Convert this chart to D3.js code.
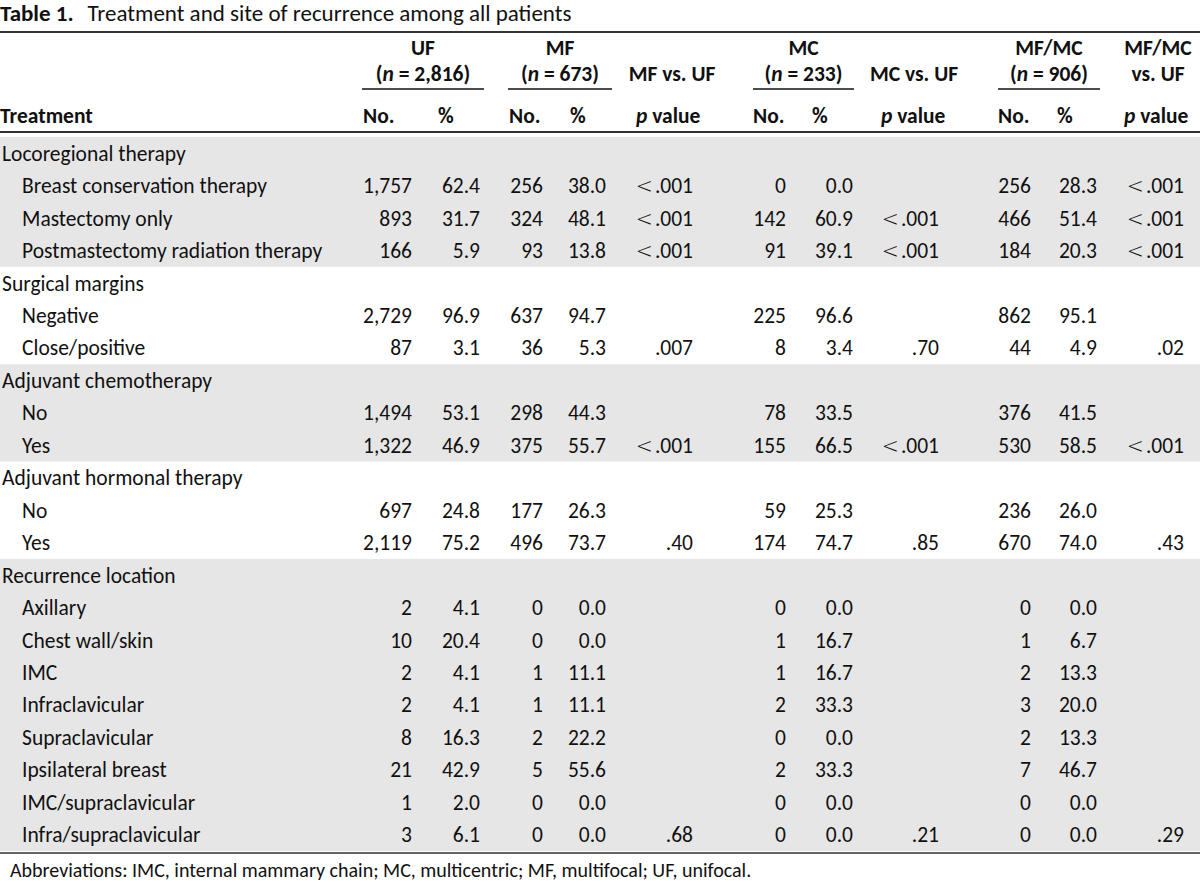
<!DOCTYPE html>
<html>
<head>
<meta charset="utf-8">
<script src="https://cdn.jsdelivr.net/npm/d3@7"></script>
<style>
  html, body { margin: 0; padding: 0; background: #fff; }
  svg { display: block; font-family: Carlito, Lato, "Open Sans", sans-serif; }
</style>
</head>
<body>
<svg id="chart" width="1200" height="882"></svg>
<script>
// ---------------- DATA ----------------
const titleBold = "Table 1.";
const titleText = "Treatment and site of recurrence among all patients";
const footnote = "Abbreviations: IMC, internal mammary chain; MC, multicentric; MF, multifocal; UF, unifocal.";

const rowLabels = [
  "Locoregional therapy", "Breast conservation therapy", "Mastectomy only", "Postmastectomy radiation therapy",
  "Surgical margins", "Negative", "Close/positive",
  "Adjuvant chemotherapy", "No", "Yes",
  "Adjuvant hormonal therapy", "No", "Yes",
  "Recurrence location", "Axillary", "Chest wall/skin", "IMC", "Infraclavicular", "Supraclavicular",
  "Ipsilateral breast", "IMC/supraclavicular", "Infra/supraclavicular"
];
// 1 = group heading, 0 = item
const rowIsGroup = [1,0,0,0, 1,0,0, 1,0,0, 1,0,0, 1,0,0,0,0,0,0,0,0];
// group index (for shading bands)
const rowGroup   = [0,0,0,0, 1,1,1, 2,2,2, 3,3,3, 4,4,4,4,4,4,4,4,4];

const ufNo    = [null,1757,893,166, null,2729,87, null,1494,1322, null,697,2119, null,2,10,2,2,8,21,1,3];
const ufPct   = [null,62.4,31.7,5.9, null,96.9,3.1, null,53.1,46.9, null,24.8,75.2, null,4.1,20.4,4.1,4.1,16.3,42.9,2.0,6.1];
const mfNo    = [null,256,324,93, null,637,36, null,298,375, null,177,496, null,0,0,1,1,2,5,0,0];
const mfPct   = [null,38.0,48.1,13.8, null,94.7,5.3, null,44.3,55.7, null,26.3,73.7, null,0.0,0.0,11.1,11.1,22.2,55.6,0.0,0.0];
const pMfUf   = ["","<.001","<.001","<.001", "","",".007", "","","<.001", "","",".40", "","","","","","","","",".68"];
const mcNo    = [null,0,142,91, null,225,8, null,78,155, null,59,174, null,0,1,1,2,0,2,0,0];
const mcPct   = [null,0.0,60.9,39.1, null,96.6,3.4, null,33.5,66.5, null,25.3,74.7, null,0.0,16.7,16.7,33.3,0.0,33.3,0.0,0.0];
const pMcUf   = ["","","<.001","<.001", "","",".70", "","","<.001", "","",".85", "","","","","","","","",".21"];
const mfmcNo  = [null,256,466,184, null,862,44, null,376,530, null,236,670, null,0,1,2,3,2,7,0,0];
const mfmcPct = [null,28.3,51.4,20.3, null,95.1,4.9, null,41.5,58.5, null,26.0,74.0, null,0.0,6.7,13.3,20.0,13.3,46.7,0.0,0.0];
const pMfmcUf = ["","<.001","<.001","<.001", "","",".02", "","","<.001", "","",".43", "","","","","","","","",".29"];

// column group headers
const groupNames = ["UF", "MF", "MC", "MF/MC"];
const groupN     = ["2,816", "673", "233", "906"];
const compHeaders = ["MF vs. UF", "MC vs. UF"];

// ---------------- LAYOUT ----------------
const W = 1200, H = 882;
const FS = 21.5;
const svg = d3.select("#chart");

const colKeys = ["ufNo","ufPct","mfNo","mfPct","pMf","mcNo","mcPct","pMc","mfmcNo","mfmcPct","pMfmc"];
// right edges of value columns
const xRight = d3.scaleOrdinal().domain(colKeys)
  .range([412, 480, 543, 606, 693, 786, 853, 939, 1031, 1097, 1184]);
const colValues = {
  ufNo: ufNo, ufPct: ufPct, mfNo: mfNo, mfPct: mfPct, pMf: pMfUf,
  mcNo: mcNo, mcPct: mcPct, pMc: pMcUf, mfmcNo: mfmcNo, mfmcPct: mfmcPct, pMfmc: pMfmcUf
};
const fmtNo = d3.format(",");
const fmtPct = d3.format(".1f");
function fmt(key, v) {
  if (v === null || v === undefined || v === "") return "";
  if (key.startsWith("p")) return v;
  if (key.endsWith("No")) return fmtNo(v);
  return fmtPct(v);
}

const y = d3.scaleBand().domain(d3.range(rowLabels.length)).range([137, 851]).padding(0);

// shading bands
const bands = d3.groups(d3.range(rowLabels.length), i => rowGroup[i]);
svg.append("g").selectAll("rect").data(bands.filter(b => b[0] % 2 === 0)).join("rect")
  .attr("x", 0).attr("width", W)
  .attr("y", b => y(b[1][0]))
  .attr("height", b => y(b[1][b[1].length - 1]) + y.bandwidth() - y(b[1][0]))
  .attr("fill", "#e6e6e6");

// title
const t = svg.append("text").attr("x", 0).attr("y", 21).attr("font-size", 23).attr("fill", "#111");
t.append("tspan").attr("font-weight", "bold").text(titleBold);
t.append("tspan").attr("dx", 14).text(titleText);

// rules
svg.append("line").attr("x1", 0).attr("x2", W).attr("y1", 32).attr("y2", 32).attr("stroke", "#333").attr("stroke-width", 2);
svg.append("line").attr("x1", 0).attr("x2", W).attr("y1", 132).attr("y2", 132).attr("stroke", "#333").attr("stroke-width", 2);
svg.append("line").attr("x1", 0).attr("x2", W).attr("y1", 853).attr("y2", 853).attr("stroke", "#333").attr("stroke-width", 1.5);

// header
const hdr = svg.append("g").attr("font-weight", "bold").attr("font-size", FS).attr("fill", "#111");
const groupSpan = d3.scaleOrdinal().domain(groupNames).range([[362, 484], [508, 612], [753, 854], [998, 1100]]);
groupNames.forEach((g, i) => {
  const [a, b] = groupSpan(g);
  const cx = (a + b) / 2;
  hdr.append("text").attr("x", cx).attr("y", 55).attr("text-anchor", "middle").text(g);
  const nt = hdr.append("text").attr("x", cx).attr("y", 81).attr("text-anchor", "middle");
  nt.append("tspan").text("(");
  nt.append("tspan").attr("font-style", "italic").text("n");
  nt.append("tspan").text(" = " + groupN[i] + ")");
  svg.append("line").attr("x1", a).attr("x2", b).attr("y1", 89).attr("y2", 89).attr("stroke", "#111").attr("stroke-width", 1.5);
});
const compX = d3.scaleOrdinal().domain(compHeaders).range([672, 914]);
compHeaders.forEach(c => {
  hdr.append("text").attr("x", compX(c)).attr("y", 81).attr("text-anchor", "middle").text(c);
});
hdr.append("text").attr("x", 1158).attr("y", 55).attr("text-anchor", "middle").text("MF/MC");
hdr.append("text").attr("x", 1158).attr("y", 81).attr("text-anchor", "middle").text("vs. UF");

hdr.append("text").attr("x", 0).attr("y", 123).text("Treatment");
const subHdrX = [363, 438, 509, 570, 753, 812, 998, 1057];
const subHdr = ["No.", "%", "No.", "%", "No.", "%", "No.", "%"];
subHdr.forEach((s, i) => hdr.append("text").attr("x", subHdrX[i]).attr("y", 123).text(s));
[636, 881, 1124].forEach(x => {
  const pt = hdr.append("text").attr("x", x).attr("y", 123);
  pt.append("tspan").attr("font-style", "italic").text("p");
  pt.append("tspan").text(" value");
});

// body
const body = svg.append("g").attr("font-size", FS).attr("fill", "#111");
const rows = body.selectAll("g.row").data(d3.range(rowLabels.length)).join("g")
  .attr("class", "row")
  .attr("transform", i => `translate(0,${y(i) + y.bandwidth() / 2 + 7.5})`);
rows.append("text").attr("x", i => rowIsGroup[i] ? 2 : 22).text(i => rowLabels[i]);
colKeys.forEach(k => {
  rows.append("text").attr("x", xRight(k)).attr("text-anchor", "end")
    .each(function(i) {
      const s = fmt(k, colValues[k][i]);
      const el = d3.select(this);
      if (s.startsWith("<")) {
        el.append("tspan").attr("font-family", "'DejaVu Sans', sans-serif").attr("font-weight", 200)
          .attr("font-size", FS * 0.95).text("<");
        el.append("tspan").attr("dx", 2).text(s.slice(1));
      } else {
        el.text(s);
      }
    });
});

// footnote
svg.append("text").attr("x", 10).attr("y", 877).attr("font-size", 20).attr("fill", "#111").text(footnote);
</script>
</body>
</html>
